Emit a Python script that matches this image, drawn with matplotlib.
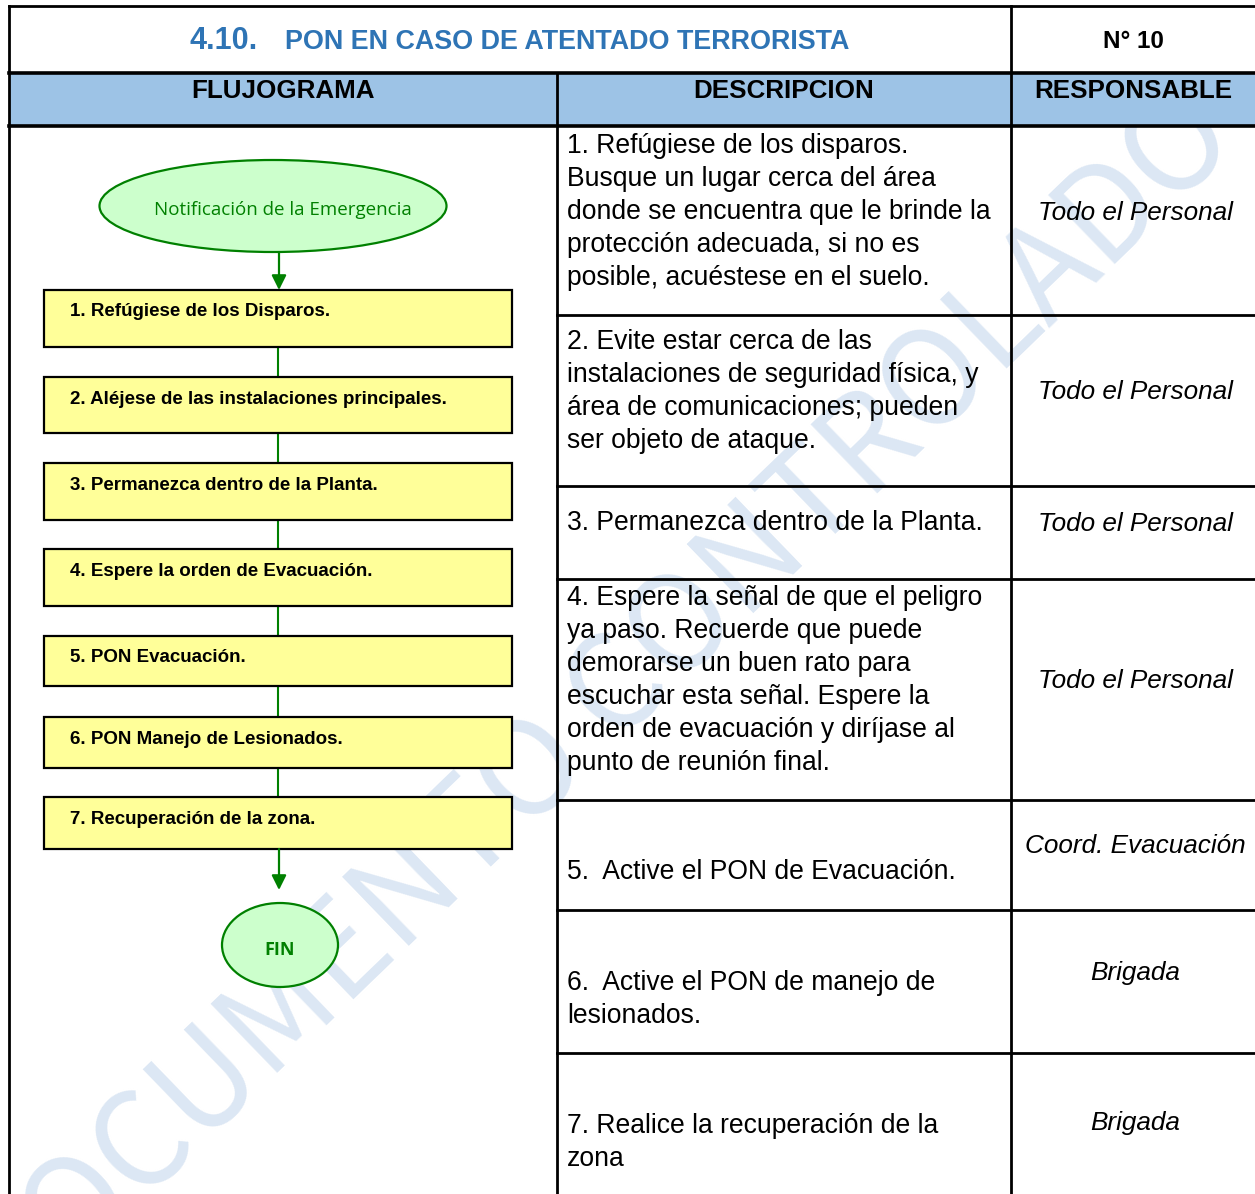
import matplotlib
matplotlib.use("Agg")
import matplotlib.pyplot as plt
from matplotlib.patches import Rectangle, Ellipse

# ---------------- content ----------------
title_num = "4.10."
title_text = "PON EN CASO DE ATENTADO TERRORISTA"
doc_number = "N° 10"
headers = ["FLUJOGRAMA", "DESCRIPCION", "RESPONSABLE"]
start_label = "Notificación de la Emergencia"
end_label = "FIN"
flow_steps = [
    "1. Refúgiese de los Disparos.",
    "2. Aléjese de las instalaciones principales.",
    "3. Permanezca dentro de la Planta.",
    "4. Espere la orden de Evacuación.",
    "5. PON Evacuación.",
    "6. PON Manejo de Lesionados.",
    "7. Recuperación de la zona.",
]
descriptions = [
    ["1. Refúgiese de los disparos.", "Busque un lugar cerca del área",
     "donde se encuentra que le brinde la", "protección adecuada, si no es",
     "posible, acuéstese en el suelo."],
    ["2. Evite estar cerca de las", "instalaciones de seguridad física, y",
     "área de comunicaciones; pueden", "ser objeto de ataque."],
    ["3. Permanezca dentro de la Planta."],
    ["4. Espere la señal de que el peligro", "ya paso. Recuerde que puede",
     "demorarse un buen rato para", "escuchar esta señal. Espere la",
     "orden de evacuación y diríjase al", "punto de reunión final."],
    ["5.  Active el PON de Evacuación."],
    ["6.  Active el PON de manejo de", "lesionados."],
    ["7. Realice la recuperación de la", "zona"],
]
responsables = ["Todo el Personal", "Todo el Personal", "Todo el Personal",
                "Todo el Personal", "Coord. Evacuación", "Brigada", "Brigada"]
watermark = "DOCUMENTO CONTROLADO"

# ---------------- layout (pixels) ----------------
W, H = 1255, 1194
x_left, x_c1, x_c2, x_right = 9, 557, 1011, 1258
y_top, y_head, y_body = 6, 73, 126
row_lines = [315, 486, 579, 800, 910, 1053]
desc_first_y = [146, 342, 523, 598, 872, 983, 1126]
line_step = 33
resp_y = [213, 392, 524, 681, 846, 973, 1123]
box_x0, box_x1 = 44, 512
box_tops = [290, 377, 463, 549, 636, 717, 797]
box_bots = [347, 433, 520, 606, 686, 768, 849]
flow_x = 278

BLUE = "#2E74B5"
HEAD_FILL = "#9DC3E6"
GREEN = "#008000"
LIGHT_GREEN = "#CCFFCC"
YELLOW = "#FFFF99"
WM = "#DCE7F4"

plt.rcParams['font.family'] = ['Liberation Sans', 'DejaVu Sans']

fig = plt.figure(figsize=(W / 100, H / 100), dpi=100)
ax = fig.add_axes([0, 0, 1, 1])
ax.set_xlim(0, W)
ax.set_ylim(H, 0)
ax.axis('off')

# watermark (clipped to the body of the table)
clip_rect = Rectangle((x_left, y_body), W - x_left, H - y_body,
                      transform=ax.transData, facecolor='none',
                      edgecolor='none')
wm = ax.text(598, 712, watermark, rotation=44, rotation_mode='anchor',
             ha='center', va='center', fontsize=94, fontweight='medium',
             color=WM, family=['Noto Sans CJK SC', 'DejaVu Sans'],
             zorder=0.5, clip_on=True)
wm.set_clip_path(clip_rect)

# header fill
ax.add_patch(Rectangle((x_left, y_head), x_right - x_left, y_body - y_head,
                       facecolor=HEAD_FILL, edgecolor='none', zorder=0.2))

lw = 2.0
# horizontal lines
ax.plot([x_left, x_right], [y_top, y_top], color='black', lw=lw, zorder=3)
ax.plot([x_left, x_right], [y_head, y_head], color='black', lw=2.6, zorder=3)
ax.plot([x_left, x_right], [y_body, y_body], color='black', lw=2.6, zorder=3)
for y in row_lines:
    ax.plot([x_c1, x_right], [y, y], color='black', lw=lw, zorder=3)
# vertical lines
ax.plot([x_left, x_left], [y_top, H + 5], color='black', lw=lw, zorder=3)
ax.plot([x_c2, x_c2], [y_top, H + 5], color='black', lw=lw, zorder=3)
ax.plot([x_c1, x_c1], [y_head, H + 5], color='black', lw=lw, zorder=3)

# title
ax.text(258, 41, title_num, ha='right', va='center', fontsize=22,
        fontweight='bold', color=BLUE, zorder=4)
ax.text(285, 42, title_text, ha='left', va='center', fontsize=19.4,
        fontweight='bold', color=BLUE, zorder=4)
ax.text(1133, 41, doc_number, ha='center', va='center', fontsize=17.5,
        fontweight='bold', color='black', zorder=4)

# headers
for hx, h in zip([283, 784, 1133], headers):
    ax.text(hx, 91, h, ha='center', va='center', fontsize=18.7,
            fontweight='bold', color='black', zorder=4)

# descriptions
for lines, y0 in zip(descriptions, desc_first_y):
    for i, ln in enumerate(lines):
        ax.text(567, y0 + i * line_step, ln, ha='left', va='center',
                fontsize=19.1, color='black', zorder=4)

# responsables
for r, y in zip(responsables, resp_y):
    ax.text(1135, y, r, ha='center', va='center', fontsize=18.8,
            style='italic', color='black', zorder=4)

# flowchart: start ellipse
ax.add_patch(Ellipse((273, 206), 347, 92, facecolor=LIGHT_GREEN,
                     edgecolor=GREEN, lw=1.6, zorder=2))
ax.text(283, 210, start_label, ha='center', va='center', fontsize=13.5,
        color=GREEN, family=['Open Sans', 'DejaVu Sans'], zorder=4)
ax.annotate('', xy=(flow_x + 1, box_tops[0]), xytext=(flow_x + 1, 252),
            arrowprops=dict(arrowstyle='-|>', color=GREEN, lw=1.6,
                            mutation_scale=22, shrinkA=0, shrinkB=0),
            zorder=2)

# boxes
for i, (label, t, b) in enumerate(zip(flow_steps, box_tops, box_bots)):
    ax.add_patch(Rectangle((box_x0, t), box_x1 - box_x0, b - t,
                           facecolor=YELLOW, edgecolor='black', lw=1.6,
                           zorder=2))
    ax.text(70, t + 22, label, ha='left', va='center', fontsize=13.5,
            fontweight='bold', color='black', zorder=4)
    if i < len(flow_steps) - 1:
        ax.plot([flow_x, flow_x], [b, box_tops[i + 1]], color=GREEN,
                lw=1.5, zorder=1.5)

# end arrow & ellipse
ax.annotate('', xy=(flow_x + 1, 890), xytext=(flow_x + 1, box_bots[-1]),
            arrowprops=dict(arrowstyle='-|>', color=GREEN, lw=1.6,
                            mutation_scale=22, shrinkA=0, shrinkB=0),
            zorder=2)
ax.add_patch(Ellipse((280, 945), 116, 84, facecolor=LIGHT_GREEN,
                     edgecolor=GREEN, lw=1.6, zorder=2))
ax.text(280, 950, end_label, ha='center', va='center', fontsize=13,
        fontweight='bold', color=GREEN, family=['Open Sans', 'DejaVu Sans'],
        zorder=4)

fig.savefig('out.png', dpi=100, facecolor='white')
